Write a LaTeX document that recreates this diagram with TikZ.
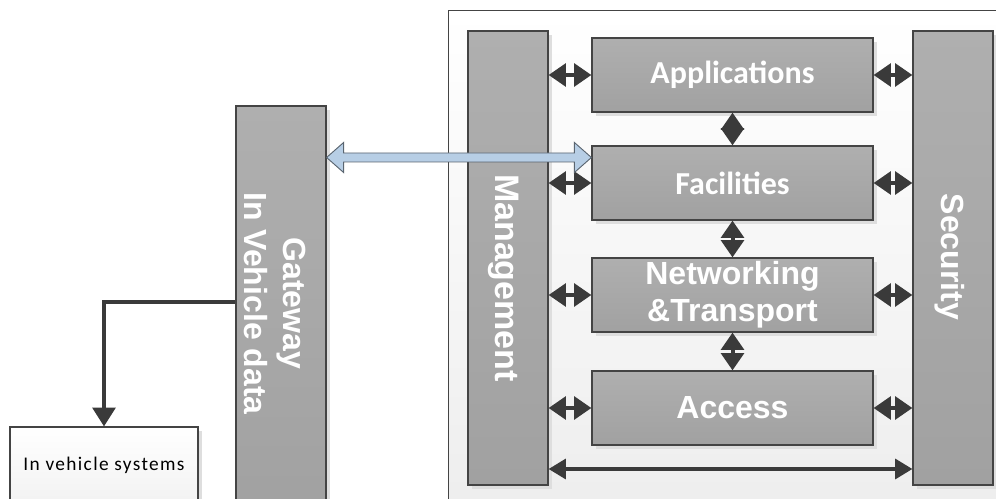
\documentclass[tikz,border=0pt]{standalone}
\usepackage{fontspec}
\usetikzlibrary{arrows.meta,calc,shadows}
\newfontfamily\arialfont{Liberation Sans}
\newfontfamily\calibrifont{Carlito}
\newfontfamily\spacedfont{Carlito}[LetterSpace=7]

\definecolor{boxedge}{HTML}{444444}
\definecolor{boxtop}{HTML}{AFAFAF}
\definecolor{boxbot}{HTML}{A1A1A1}
\definecolor{arrowdark}{HTML}{3A3A3A}
\definecolor{lightblue}{HTML}{B7CEE5}
\definecolor{blueedge}{HTML}{5A6570}

\begin{document}
\begin{tikzpicture}[x=0.75pt,y=-0.75pt,
  layerbox/.style={draw=boxedge, line width=0.9pt, top color=boxtop, bottom color=boxbot,
    inner sep=0pt, general shadow={fill=black!13, shadow xshift=3pt, shadow yshift=-3pt}},
  whitebox/.style={draw=boxedge, line width=0.9pt, top color=white, bottom color=black!5,
    inner sep=0pt, general shadow={fill=black!13, shadow xshift=3pt, shadow yshift=-3pt}},
  frame/.style={draw=boxedge, line width=0.9pt, top color=white, bottom color=black!7},
  callabel/.style={text=white, font=\calibrifont\bfseries\fontsize{24}{29}\selectfont, align=center},
  ariallabel/.style={text=white, font=\arialfont\bfseries\fontsize{24}{29}\selectfont, align=center},
  link/.style={draw=arrowdark, line width=3pt,
    {Triangle[length=13pt,width=17pt]}-{Triangle[length=13pt,width=17pt]}},
  longlink/.style={draw=arrowdark, line width=2.6pt,
    {Triangle[length=13pt,width=15pt]}-{Triangle[length=13pt,width=15pt]}},
  feed/.style={draw=arrowdark, line width=2.6pt, -{Triangle[length=14pt,width=17pt]}},
  blockarrow/.style={draw=blueedge, line width=0.7pt, fill=lightblue, line join=miter}
]
\useasboundingbox (0,0) rectangle (996,499);
\clip (0,0) rectangle (996,499);

% protocol stack frame
\node[frame, minimum width=421.5pt, minimum height=382.5pt, inner sep=0pt, anchor=north west] (frm) at (448,10) {};

% vertical columns
\node[layerbox, minimum width=60pt, minimum height=340.5pt] (mg) at (508,258) {};
\node[ariallabel, font=\arialfont\bfseries\fontsize{25.5}{30}\selectfont, rotate=-90] (mgt) at ($(mg)+(-4,20)$) {Management};
\node[layerbox, minimum width=60pt, minimum height=340.5pt] (sec) at (953,258) {};
\node[ariallabel, rotate=-90] (sect) at ($(sec)+(-3,-1)$) {Security};

% layers
\node[layerbox, callabel, minimum width=210.75pt, minimum height=55.5pt] (app) at (732.5,75) {Applications};
\node[layerbox, callabel, minimum width=210.75pt, minimum height=55.5pt] (fac) at (732.5,183) {Facilities};
\node[layerbox, ariallabel, minimum width=210.75pt, minimum height=55.5pt] (net) at (732.5,295) {Networking\\[-1pt]\&Transport};
\node[layerbox, ariallabel, minimum width=210.75pt, minimum height=55.5pt] (acc) at (732.5,408) {Access};

% gateway and in-vehicle side
\node[layerbox, minimum width=67.5pt, minimum height=310.5pt] (gw) at (281,313) {};
\node[ariallabel, rotate=-90] (gwt) at ($(gw.north)+(-6,198)$) {Gateway\\In Vehicle data};
\node[whitebox, minimum width=141pt, minimum height=57pt,
  font=\spacedfont\fontsize{14.5}{17}\selectfont] (ivs) at (104,465) {In vehicle systems};

% links between management, layers and security
\foreach \b in {app,fac,net,acc}{
  \draw[link] (mg.east |- \b) -- (\b.west);
  \draw[link] (\b.east) -- (sec.west |- \b);
}
\draw[link] (app.south) -- (fac.north);
\draw[link] (fac.south) -- (net.north);
\draw[link] (net.south) -- (acc.north);
\coordinate (low) at (0,469);
\draw[longlink] (mg.east |- low) -- (sec.west |- low);

% gateway to in-vehicle systems
\coordinate (elb) at (104,302);
\draw[feed] (gw.west |- elb) -| (ivs.north);

% wide arrow between gateway and facilities
\coordinate (ba) at ($(gw.east |- 0,157.5)$);
\coordinate (bb) at ($(fac.west |- 0,157.5)$);
\draw[blockarrow] (ba) -- ($(ba)+(17,-15)$) -- ($(ba)+(17,-4.5)$) -- ($(bb)+(-17,-4.5)$)
  -- ($(bb)+(-17,-15)$) -- (bb) -- ($(bb)+(-17,15)$) -- ($(bb)+(-17,4.5)$)
  -- ($(ba)+(17,4.5)$) -- ($(ba)+(17,15)$) -- cycle;
\end{tikzpicture}
\end{document}
